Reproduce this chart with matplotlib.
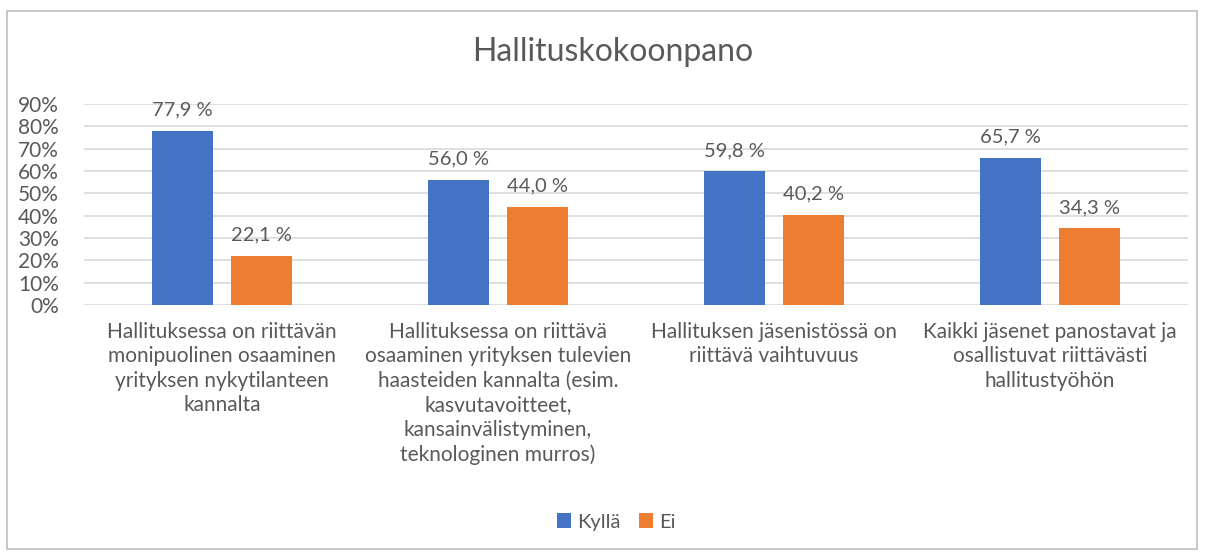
import matplotlib
matplotlib.use('Agg')
import matplotlib.pyplot as plt
from matplotlib.patches import Rectangle
import numpy as np

plt.rcParams['font.family'] = ['Lato', 'DejaVu Sans']

# 数据
kategoriat = [
    'Hallituksessa on riittävän\nmonipuolinen osaaminen\nyrityksen nykytilanteen\nkannalta',
    'Hallituksessa on riittävä\nosaaminen yrityksen tulevien\nhaasteiden kannalta (esim.\nkasvutavoitteet,\nkansainvälistyminen,\nteknologinen murros)',
    'Hallituksen jäsenistössä on\nriittävä vaihtuvuus',
    'Kaikki jäsenet panostavat ja\nosallistuvat riittävästi\nhallitustyöhön',
]
kylla = [77.9, 56.0, 59.8, 65.7]
ei = [22.1, 44.0, 40.2, 34.3]
sarjat = ['Kyllä', 'Ei']
y_ticks = [0, 10, 20, 30, 40, 50, 60, 70, 80, 90]

teksti = '#595959'
sininen = '#4472C4'
oranssi = '#ED7D31'

fig = plt.figure(figsize=(12.06, 5.52), dpi=100)
ax = fig.add_axes([84 / 1206, 1 - 305 / 552, 1104 / 1206, 201 / 552])

x = np.arange(len(kategoriat))
w = 0.222
off = 0.143
b1 = ax.bar(x - off, kylla, w, color=sininen, label=sarjat[0], zorder=3)
b2 = ax.bar(x + off, ei, w, color=oranssi, label=sarjat[1], zorder=3)

for bars, vals in ((b1, kylla), (b2, ei)):
    for r, v in zip(bars, vals):
        ax.annotate(f'{v:.1f} %'.replace('.', ','),
                    (r.get_x() + r.get_width() / 2, v),
                    xytext=(0, 9), textcoords='offset points',
                    ha='center', va='bottom', fontsize=14.5, color=teksti)

ax.set_xlim(-0.5, len(kategoriat) - 0.5)
ax.set_ylim(0, 90)
ax.set_yticks(y_ticks)
ax.set_yticklabels([f'{t}%' for t in y_ticks], fontsize=15, color=teksti)
ax.set_xticks(x)
ax.set_xticklabels(kategoriat, fontsize=15, color=teksti, linespacing=1.28)
ax.tick_params(axis='both', length=0)
ax.tick_params(axis='y', pad=18)
ax.tick_params(axis='x', pad=12)
ax.grid(axis='y', color='#D9D9D9', linewidth=1.2, zorder=0)
for s in ax.spines.values():
    s.set_visible(False)

fig.text(0.508, 1 - 52 / 552, 'Hallituskokoonpano', ha='center', va='center',
         fontsize=23, color=teksti)

fig.legend(handles=[b1, b2], loc='center', bbox_to_anchor=(0.511, 1 - 522 / 552),
           ncol=2, frameon=False, fontsize=14.5, labelcolor=teksti,
           handlelength=0.7, handleheight=0.7, handletextpad=0.3, columnspacing=0.9)

fig.patches.append(Rectangle((7 / 1206, 3 / 552), 1190 / 1206, 538 / 552,
                             transform=fig.transFigure, fill=False,
                             edgecolor='#BFBFBF', linewidth=1.2))

plt.savefig('out.png', dpi=100)
